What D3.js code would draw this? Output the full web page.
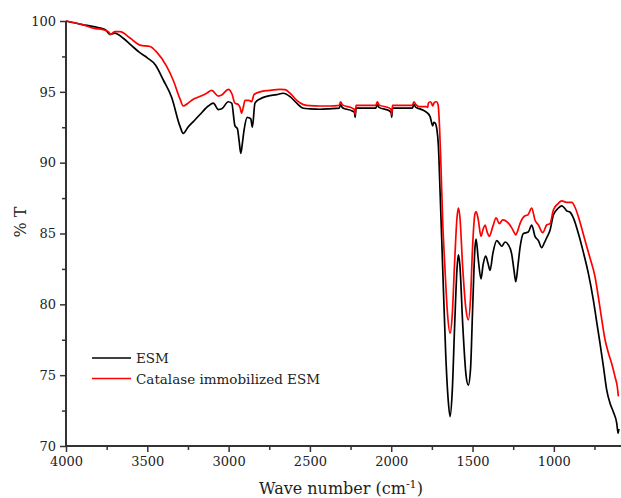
<!DOCTYPE html>
<html>
<head>
<meta charset="utf-8">
<script src="https://cdn.jsdelivr.net/npm/d3@7"></script>
<style>
  html, body { margin: 0; padding: 0; background: #fff; }
  svg { display: block; }
  text { font-family: "DejaVu Serif", serif; fill: #222; }
</style>
</head>
<body>
<svg id="chart" width="621" height="498"></svg>
<script>
// ---- Data ----
const seriesNames = ["ESM", "Catalase immobilized ESM"];
const seriesColors = ["#000000", "#ff0000"];

const esmWave = [4000, 3900, 3830, 3760, 3735, 3728, 3700, 3650, 3600, 3550, 3500, 3450, 3400, 3350, 3300, 3279, 3250, 3217, 3176, 3125, 3094, 3063, 3042, 3002, 2981, 2961, 2946, 2935, 2925, 2915, 2905, 2885, 2864, 2854, 2838, 2807, 2760, 2704, 2664, 2622, 2581, 2540, 2500, 2438, 2380, 2320, 2311, 2300, 2240, 2226, 2222, 2216, 2150, 2095, 2085, 2075, 2010, 2000, 1997, 1992, 1930, 1870, 1860, 1848, 1820, 1803, 1782, 1761, 1745, 1738, 1730, 1720, 1710, 1700, 1683, 1665, 1650, 1638, 1625, 1610, 1595, 1587, 1578, 1560, 1540, 1526, 1512, 1500, 1485, 1478, 1465, 1448, 1435, 1419, 1405, 1392, 1375, 1351, 1335, 1320, 1300, 1280, 1260, 1245, 1234, 1222, 1208, 1187, 1157, 1136, 1116, 1095, 1075, 1060, 1044, 1023, 1003, 972, 952, 935, 921, 900, 880, 849, 819, 788, 757, 737, 716, 695, 675, 654, 634, 613, 605, 600];
const esmT = [100, 99.75, 99.6, 99.4, 99.1, 99.05, 99.15, 98.8, 98.3, 97.8, 97.4, 96.9, 95.8, 94.6, 92.6, 92.07, 92.5, 92.9, 93.4, 94.0, 94.2, 93.75, 93.8, 94.3, 94.2, 92.6, 92.4, 91.5, 90.66, 91.4, 92.3, 93.2, 93.1, 92.5, 94.2, 94.5, 94.7, 94.8, 94.9, 94.66, 94.2, 93.84, 93.8, 93.77, 93.8, 93.85, 94.1, 93.88, 93.65, 93.55, 93.2, 93.85, 93.85, 93.85, 94.1, 93.9, 93.65, 93.5, 93.2, 93.85, 93.85, 93.85, 94.1, 93.9, 93.78, 93.7, 93.55, 93.25, 92.6, 92.85, 92.8, 92.4, 91.2, 88.1, 82.4, 76.5, 73.3, 72.08, 73.8, 78.5, 82.6, 83.5, 82.8, 78.5, 75.0, 74.3, 75.5, 79.5, 84.0, 84.6, 83.2, 81.8, 82.8, 83.4, 82.9, 82.4, 83.6, 84.5, 84.3, 84.1, 84.4, 84.2, 83.6, 82.4, 81.6, 82.6, 84.0, 85.0, 85.1, 85.6, 84.8, 84.5, 84.0, 84.3, 84.7, 85.25, 86.3, 86.8, 86.95, 86.8, 86.6, 86.5, 86.1, 85.0, 83.7, 82.2, 80.3, 78.8, 77.25, 75.6, 73.96, 73.0, 72.4, 71.6, 70.9, 71.2];

const catWave = [4000, 3900, 3832, 3760, 3735, 3729, 3700, 3668, 3606, 3545, 3483, 3442, 3381, 3340, 3299, 3279, 3250, 3217, 3170, 3135, 3104, 3063, 3040, 3002, 2981, 2961, 2940, 2930, 2920, 2910, 2899, 2875, 2858, 2844, 2807, 2750, 2684, 2653, 2622, 2581, 2540, 2500, 2438, 2380, 2320, 2311, 2300, 2240, 2226, 2222, 2216, 2150, 2095, 2085, 2075, 2010, 2000, 1997, 1992, 1930, 1870, 1860, 1848, 1823, 1782, 1775, 1772, 1760, 1752, 1745, 1735, 1722, 1712, 1704, 1696, 1683, 1669, 1655, 1638, 1625, 1610, 1595, 1587, 1578, 1560, 1540, 1526, 1512, 1500, 1485, 1478, 1465, 1448, 1435, 1423, 1410, 1397, 1375, 1355, 1335, 1314, 1286, 1259, 1245, 1234, 1222, 1208, 1177, 1160, 1136, 1116, 1095, 1068, 1044, 1023, 1003, 972, 952, 921, 890, 868, 839, 808, 777, 747, 726, 705, 685, 664, 644, 624, 610, 603];
const catT = [100, 99.75, 99.5, 99.35, 99.2, 99.05, 99.25, 99.25, 98.8, 98.3, 98.2, 97.8, 96.8, 95.8, 94.5, 94.0, 94.2, 94.47, 94.7, 94.9, 95.1, 94.7, 94.8, 95.18, 94.9, 94.2, 94.1, 93.9, 93.5, 93.9, 94.4, 94.4, 94.3, 94.8, 95.0, 95.1, 95.18, 95.15, 94.9, 94.4, 94.1, 94.02, 94.0, 94.0, 94.05, 94.3, 94.08, 93.85, 93.75, 93.4, 94.05, 94.05, 94.05, 94.3, 94.08, 93.85, 93.7, 93.4, 94.05, 94.05, 94.05, 94.3, 94.1, 93.95, 93.95, 93.9, 94.2, 94.3, 94.2, 94.0, 94.25, 94.3, 94.1, 92.8, 90.4, 85.7, 82.4, 79.5, 77.96, 79.2, 83.0, 86.2, 86.8, 86.2, 82.5, 79.6, 78.9, 80.5, 84.0, 86.4, 86.55, 86.0, 84.8, 85.3, 85.6, 85.1, 84.8, 85.5, 86.1, 85.7, 85.96, 85.8, 85.4, 85.1, 84.9, 85.2, 85.7, 86.25, 86.3, 86.8, 85.95, 85.6, 85.06, 85.6, 85.7, 86.66, 87.13, 87.3, 87.2, 87.2, 86.8, 85.8, 84.5, 83.25, 81.96, 80.5, 78.9, 77.5, 76.55, 75.8, 74.9, 74.2, 73.5];

const xTicks = [4000, 3500, 3000, 2500, 2000, 1500, 1000];
const xMinorTicks = [3750, 3250, 2750, 2250, 1750, 1250, 750];
const yTicks = [70, 75, 80, 85, 90, 95, 100];
const yMinorTicks = [72.5, 77.5, 82.5, 87.5, 92.5, 97.5];

// ---- Layout ----
const svg = d3.select("#chart");
const mLeft = 66, mRight = 621, mTop = 21, mBottom = 446;

const x = d3.scaleLinear().domain([4000, 587]).range([mLeft, mRight]);
const y = d3.scaleLinear().domain([70, 100]).range([mBottom, mTop]);

const axisColor = "#333";

const series = [
  { name: seriesNames[0], color: seriesColors[0], pts: esmWave.map((w, i) => [w, esmT[i]]) },
  { name: seriesNames[1], color: seriesColors[1], pts: catWave.map((w, i) => [w, catT[i]]) }
];
const line = d3.line().x(d => x(d[0])).y(d => y(d[1])).curve(d3.curveMonotoneX);

svg.append("g").selectAll("path").data(series).join("path")
  .attr("d", d => line(d.pts.slice().sort((a, b) => a[0] - b[0])))
  .attr("fill", "none")
  .attr("stroke", d => d.color)
  .attr("stroke-width", 1.7)
  .attr("stroke-linejoin", "round");

// axes
const xAxis = d3.axisBottom(x).tickValues(xTicks).tickSize(6).tickPadding(5).tickFormat(d3.format("d"));
const gx = svg.append("g").attr("transform", `translate(0,${mBottom})`).call(xAxis);
gx.select(".domain").remove();
gx.selectAll(".tick line").attr("stroke", axisColor).attr("stroke-width", 1.5);
gx.selectAll(".tick text").attr("font-size", 13).attr("font-family", "DejaVu Serif").attr("fill", "#222");

const xMinor = d3.axisBottom(x).tickValues(xMinorTicks).tickSize(4).tickFormat("");
const gxm = svg.append("g").attr("transform", `translate(0,${mBottom})`).call(xMinor);
gxm.select(".domain").remove();
gxm.selectAll(".tick line").attr("stroke", axisColor).attr("stroke-width", 1.5);

const yAxis = d3.axisLeft(y).tickValues(yTicks).tickSize(6).tickPadding(4).tickFormat(d3.format("d"));
const gy = svg.append("g").attr("transform", `translate(${mLeft},0)`).call(yAxis);
gy.select(".domain").remove();
gy.selectAll(".tick line").attr("stroke", axisColor).attr("stroke-width", 1.5);
gy.selectAll(".tick text").attr("font-size", 13).attr("font-family", "DejaVu Serif").attr("fill", "#222");

const yMinor = d3.axisLeft(y).tickValues(yMinorTicks).tickSize(4).tickFormat("");
const gym = svg.append("g").attr("transform", `translate(${mLeft},0)`).call(yMinor);
gym.select(".domain").remove();
gym.selectAll(".tick line").attr("stroke", axisColor).attr("stroke-width", 1.5);

svg.append("line").attr("x1", mLeft).attr("x2", mLeft).attr("y1", mTop).attr("y2", mBottom + 1)
  .attr("stroke", axisColor).attr("stroke-width", 2);
svg.append("line").attr("x1", mLeft - 1).attr("x2", mRight).attr("y1", mBottom).attr("y2", mBottom)
  .attr("stroke", axisColor).attr("stroke-width", 2);

// axis titles
const xt = svg.append("text").attr("x", 341).attr("y", 494).attr("text-anchor", "middle")
  .attr("font-size", 16);
xt.append("tspan").text("Wave number (cm");
xt.append("tspan").attr("font-size", 11).attr("dy", -6).text("-1");
xt.append("tspan").attr("dy", 6).text(")");

svg.append("text").attr("transform", "translate(26,222) rotate(-90)")
  .attr("text-anchor", "middle").attr("font-size", 16).text("% T");

// legend
const lg = svg.append("g").selectAll("g").data(series).join("g")
  .attr("transform", (d, i) => `translate(92,${358 + i * 20.5})`);
lg.append("line").attr("x1", 0).attr("x2", 39).attr("y1", 0).attr("y2", 0)
  .attr("stroke", d => d.color).attr("stroke-width", 1.7);
lg.append("text").attr("x", 44).attr("y", 5).attr("font-size", 13.5).text(d => d.name);
</script>
</body>
</html>
